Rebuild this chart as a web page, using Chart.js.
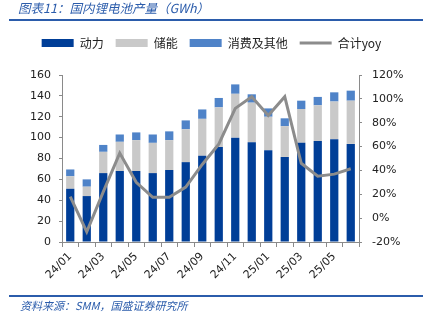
<!DOCTYPE html>
<html>
<head>
<meta charset="utf-8">
<script src="https://cdn.jsdelivr.net/npm/chart.js@4/dist/chart.umd.min.js"></script>
<style>
  html, body { margin: 0; padding: 0; background: #fff; }
  #wrap { position: relative; width: 423px; height: 323px; overflow: hidden; }
  #c { position: absolute; left: 0; top: 0; }
  .title { position: absolute; left: 18px; top: -2px; font: italic 12.5px "Noto Sans CJK SC", sans-serif; color: #2b5cab; white-space: nowrap; }
  .rule { position: absolute; left: 9px; right: 0; height: 2px; background: #2b5cab; }
  .src { position: absolute; left: 20px; top: 297px; font: italic 11px "Noto Sans CJK SC", sans-serif; color: #2b5cab; white-space: nowrap; }
</style>
</head>
<body>
<div id="wrap">
  <canvas id="c" width="423" height="323"></canvas>
  <div class="title">图表11：国内锂电池产量（GWh）</div>
  <div class="rule" style="top:19px"></div>
  <div class="rule" style="top:295px"></div>
  <div class="src">资料来源：SMM，国盛证券研究所</div>
</div>
<script>
'use strict';

// months 24/01 .. 25/06
const months = ['24/01','24/02','24/03','24/04','24/05','24/06','24/07','24/08','24/09',
                '24/10','24/11','24/12','25/01','25/02','25/03','25/04','25/05','25/06'];

// GWh
const power   = [51, 44, 66, 68, 68, 66, 69, 76.5, 82.6, 91, 100, 95.5, 88, 81.5, 95, 96.7, 98.5, 94];
const storage = [12, 9, 20.4, 28, 29.6, 29, 28.6, 31.5, 35.4, 38, 42, 38, 32, 29.5, 32.4, 34.3, 36.1, 41.4];
const consumer = [6.5, 7, 6.6, 7, 7.4, 8, 8.4, 8.5, 9, 9, 9, 8, 8, 7.5, 8, 8, 8.8, 9.6];

// total yoy, %
const yoy = [18, -11.5, 22, 54.5, 30, 17.5, 17.5, 26, 45, 62, 92, 101.8, 86, 101.8, 46, 35.2, 36.9, 41.4];

const leftTicks = [0, 160, 20];
const rightTicks = [-20, 120, 20];

const ctx = document.getElementById('c').getContext('2d');

const tickFont = { family: 'DejaVu Sans', size: 11 };
const axisColor = '#8a8a8a';

// push the plot area down below the legend
const legendGap = {
    id: 'legendGap',
    beforeInit(chart) {
        const fit = chart.legend.fit;
        chart.legend.fit = function () {
            fit.bind(chart.legend)();
            this.height += 16;
        };
    }
};

new Chart(ctx, {
    type: 'bar',
    data: {
        labels: months,
        datasets: [
            { label: '动力', data: power, backgroundColor: '#003e97', yAxisID: 'y', stack: 's', order: 1, pointStyle: 'rect' },
            { label: '储能', data: storage, backgroundColor: '#c9c9c9', yAxisID: 'y', stack: 's', order: 1, pointStyle: 'rect' },
            { label: '消费及其他', data: consumer, backgroundColor: '#4f83c8', yAxisID: 'y', stack: 's', order: 1, pointStyle: 'rect' },
            { type: 'line', label: '合计yoy', data: yoy, borderColor: '#8c8c8c', backgroundColor: '#8c8c8c',
              borderWidth: 3, pointRadius: 0, tension: 0, yAxisID: 'y1', order: 0, pointStyle: 'line' }
        ]
    },
    plugins: [legendGap],
    options: {
        responsive: false,
        animation: false,
        layout: { padding: { top: 25, left: 0, right: 0, bottom: 0 } },
        plugins: {
            tooltip: { enabled: false },
            legend: {
                position: 'top',
                labels: {
                    usePointStyle: true,
                    pointStyleWidth: 32,
                    boxHeight: 8,
                    padding: 12,
                    color: '#222',
                    font: { family: 'Noto Sans CJK SC', size: 12 },
                    sort: (a, b) => a.datasetIndex - b.datasetIndex
                }
            }
        },
        datasets: { bar: { barPercentage: 0.5, categoryPercentage: 1 } },
        scales: {
            x: {
                stacked: true,
                offset: true,
                grid: { display: true, drawOnChartArea: false, offset: true, tickLength: 5, color: axisColor },
                border: { color: axisColor, width: 1 },
                ticks: {
                    autoSkip: false, minRotation: 45, maxRotation: 45, padding: 3,
                    color: '#222', font: tickFont,
                    callback: function (v, i) { return i % 2 === 0 ? months[i] : ''; }
                },
                afterFit: function (s) { s.height = 323 - 242; }
            },
            y: {
                position: 'left', stacked: true,
                min: leftTicks[0], max: leftTicks[1],
                grid: { display: true, drawOnChartArea: false, tickLength: 3, color: axisColor },
                border: { color: axisColor },
                ticks: { stepSize: leftTicks[2], color: '#222', font: tickFont, padding: 8 },
                afterFit: function (s) { s.width = 62; }
            },
            y1: {
                position: 'right',
                min: rightTicks[0], max: rightTicks[1],
                grid: { display: true, drawOnChartArea: false, tickLength: 3, color: axisColor },
                border: { color: axisColor },
                ticks: { stepSize: rightTicks[2], color: '#222', font: tickFont, padding: 10,
                         callback: function (v) { return v + '%'; } },
                afterFit: function (s) { s.width = 423 - 359; }
            }
        }
    }
});
</script>
</body>
</html>
